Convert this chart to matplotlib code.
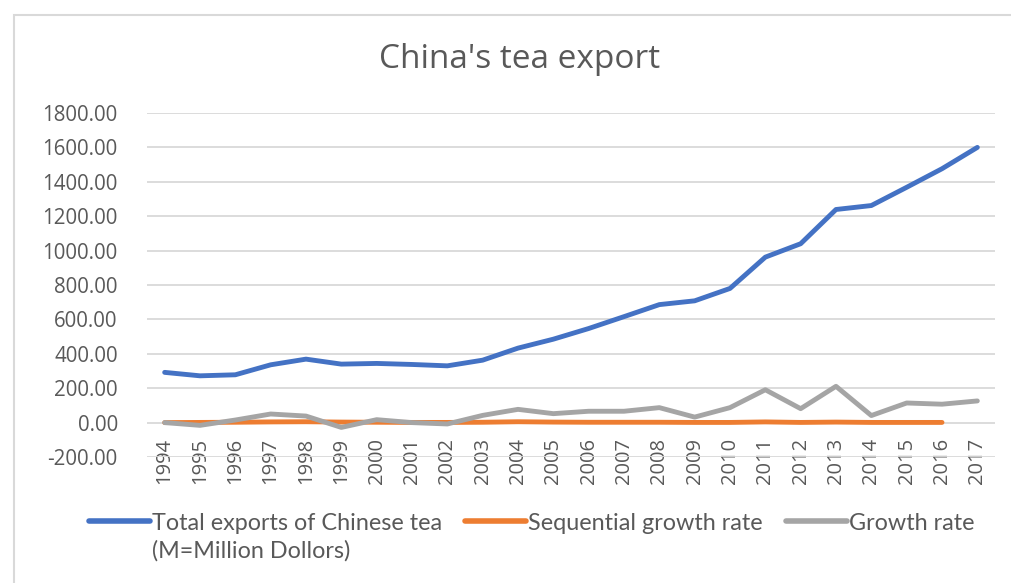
import matplotlib.pyplot as plt
from matplotlib.patches import Rectangle
import numpy as np

# Chinese tea export data, 1994-2017
years = list(range(1994, 2018))
total_exports = [292, 272, 278, 336, 369, 340, 344, 338, 330, 363, 433, 485,
                 547, 616, 686, 708, 780, 962, 1040, 1239, 1262, 1368, 1476, 1600]
sequential_growth = [0, 1, 2, 4, 5, 3, 2, 1, 1, 2, 5, 3,
                     2, 2, 2, 1, 1, 4, 1, 3, 1, 1, 1, np.nan]
growth_rate = [0, -16, 15, 50, 38, -28, 17, 0, -8, 42, 77, 52,
               66, 66, 87, 32, 87, 191, 81, 211, 41, 114, 107, 126]
yticks = list(range(-200, 2000, 200))

BLUE = '#4472C4'
ORANGE = '#ED7D31'
GREY = '#A5A5A5'
TEXT = '#595959'
GRID = '#D9D9D9'

plt.rcParams['font.family'] = ['Open Sans', 'DejaVu Sans']

fig = plt.figure(figsize=(10.11, 5.83), dpi=100)
fig.patch.set_facecolor('white')
# chart frame
fig.patches.append(Rectangle((14 / 1011, -0.1), 1.2, 1 - 15 / 583 + 0.1,
                             transform=fig.transFigure, fill=False,
                             edgecolor=GRID, linewidth=1.5))

ax = fig.add_axes([147 / 1011, 1 - 457 / 583, 848 / 1011, 344 / 583])

x = np.arange(len(years))
l1, = ax.plot(x, total_exports, color=BLUE, lw=3.5, solid_capstyle='round',
              solid_joinstyle='round', zorder=3)
l2, = ax.plot(x, sequential_growth, color=ORANGE, lw=3.5, solid_capstyle='round',
              solid_joinstyle='round', zorder=3)
l3, = ax.plot(x, growth_rate, color=GREY, lw=3.5, solid_capstyle='round',
              solid_joinstyle='round', zorder=3)

ax.set_xlim(-0.5, len(years) - 0.5)
ax.set_ylim(-200, 1800)
ax.set_yticks(yticks)
ax.set_yticklabels([f'{v:.2f}' for v in yticks])
ax.set_xticks(x)
ax.set_xticklabels([str(y) for y in years], rotation=90)
ax.grid(axis='y', color=GRID, lw=1.3)
ax.set_axisbelow(True)
for s in ax.spines.values():
    s.set_visible(False)
ax.tick_params(axis='y', length=0, pad=21, labelsize=14.8, labelcolor=TEXT)
ax.tick_params(axis='x', length=0, pad=-14, labelsize=14.5, labelcolor=TEXT)

fig.text(520 / 1011, 1 - 60 / 583, "China's tea export", ha='center', va='center',
         fontsize=24, color=TEXT)

leg_font = {'family': ['Lato', 'DejaVu Sans'], 'size': 16.8}
leg = fig.legend([l1, l2, l3],
                 ['Total exports of Chinese tea', 'Sequential growth rate', 'Growth rate'],
                 loc='center left', bbox_to_anchor=(68 / 1011, 1 - 523 / 583),
                 ncol=3, frameon=False, handlelength=2.6, handletextpad=0.1,
                 columnspacing=1.0, prop=leg_font, labelcolor=TEXT)
for h in leg.get_lines():
    h.set_linewidth(4)

fig.canvas.draw()
bb = leg.get_texts()[0].get_window_extent()
fig.text(bb.x0 / fig.bbox.width, 1 - 551 / 583, '(M=Million Dollors)',
         ha='left', va='center', fontsize=16.8, color=TEXT,
         family=['Lato', 'DejaVu Sans'])

fig.savefig('out.png', dpi=100)
